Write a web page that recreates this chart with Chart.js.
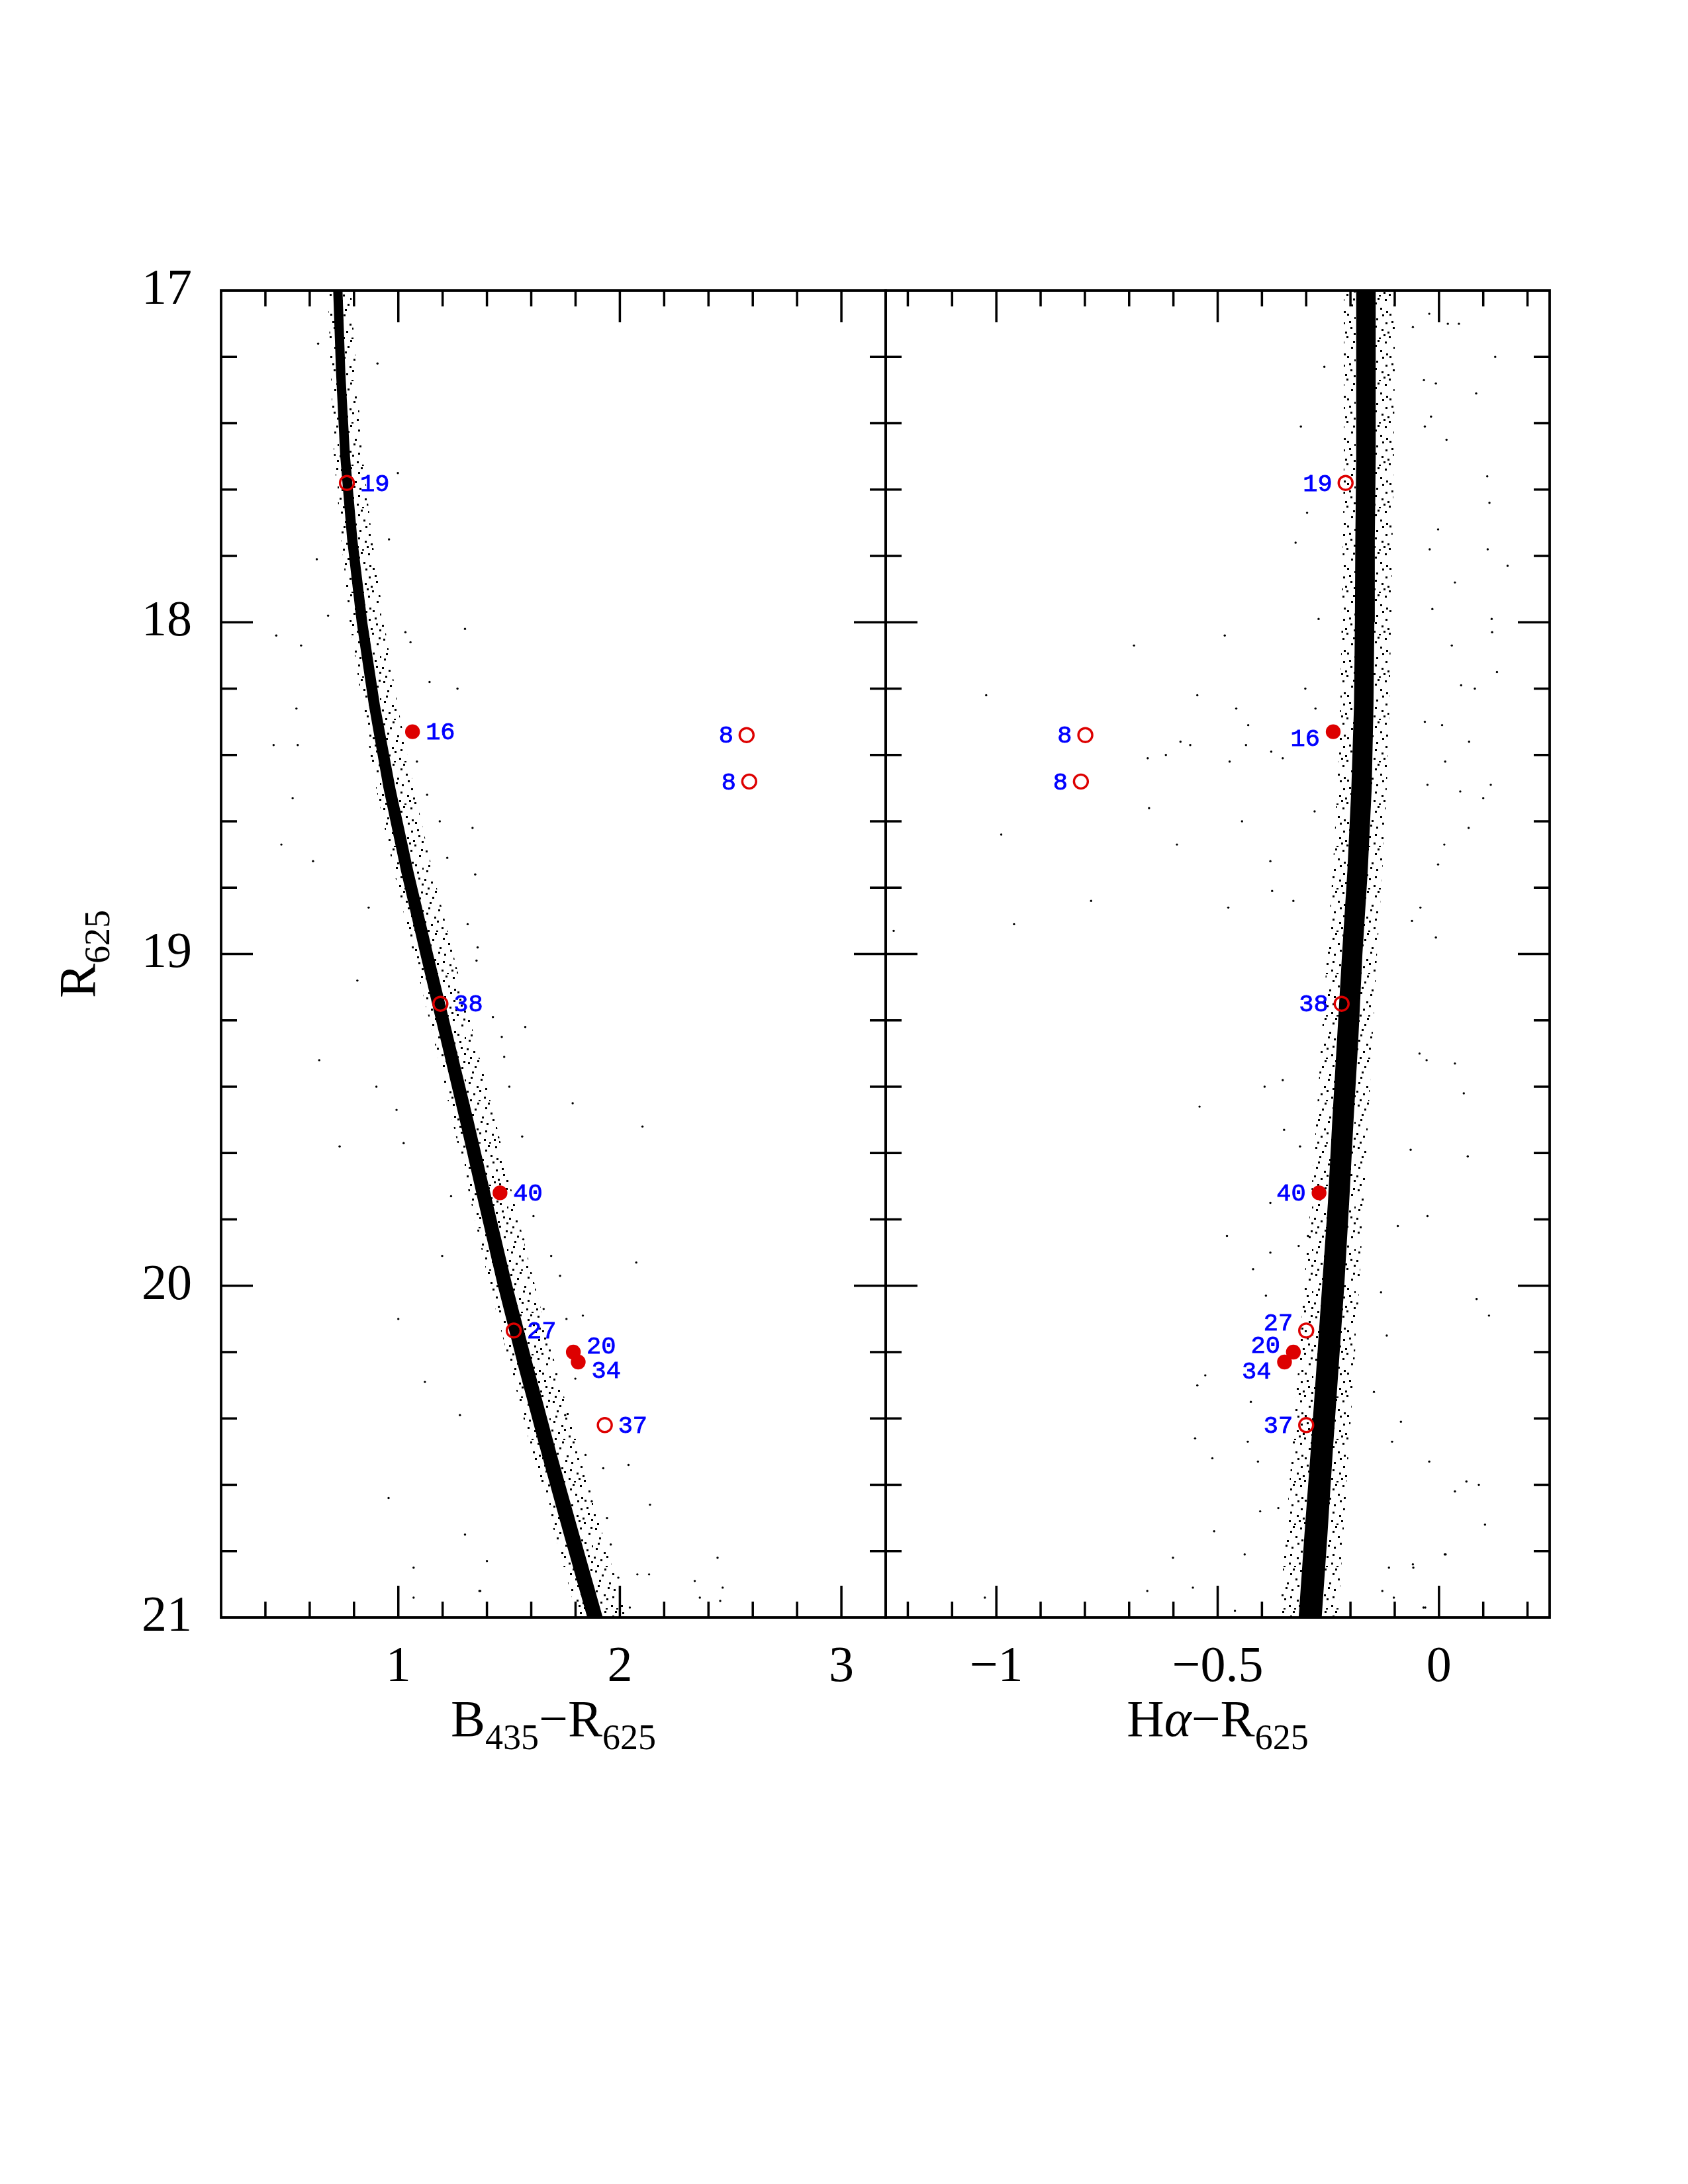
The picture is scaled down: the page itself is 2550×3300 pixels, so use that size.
<!DOCTYPE html>
<html>
<head>
<meta charset="utf-8">
<script src="https://cdn.jsdelivr.net/npm/chart.js@4.4.1/dist/chart.umd.min.js"></script>
<style>
  html, body { margin: 0; padding: 0; background: #fff; }
  #wrap { position: relative; width: 2550px; height: 3300px; background: #fff; }
  #wrap canvas { position: absolute; left: 0; top: 0; }
</style>
</head>
<body>
<div id="wrap">
  <canvas id="brPanel" width="2550" height="3300"></canvas>
  <canvas id="haPanel" width="2550" height="3300"></canvas>
</div>
<script>
// magnitude levels where the sequence edges were read
const magLevels = [17, 17.25, 17.5, 17.75, 18, 18.25, 18.5, 18.75, 19, 19.25, 19.5, 19.75, 20, 20.25, 20.5, 20.75, 21];

// B435-R625: dense core of the sequence and its sparse fringe
const brCoreLeft  = [0.706, 0.719, 0.738, 0.769, 0.812, 0.867, 0.933, 1.012, 1.099, 1.188, 1.277, 1.362, 1.449, 1.544, 1.644, 1.747, 1.853];
const brCoreRight = [0.748, 0.761, 0.782, 0.815, 0.860, 0.917, 0.987, 1.068, 1.157, 1.248, 1.339, 1.426, 1.515, 1.612, 1.712, 1.817, 1.923];
const brHaloLeft  = [0.682, 0.695, 0.710, 0.742, 0.781, 0.837, 0.900, 0.980, 1.068, 1.158, 1.243, 1.329, 1.412, 1.508, 1.603, 1.707, 1.808];
const brHaloRight = [0.787, 0.810, 0.840, 0.882, 0.936, 0.997, 1.070, 1.155, 1.248, 1.343, 1.438, 1.524, 1.617, 1.713, 1.818, 1.922, 2.033];

// Halpha-R625: same thing
const haCoreLeft  = [-0.187, -0.187, -0.187, -0.189, -0.190, -0.192, -0.198, -0.207, -0.219, -0.230, -0.241, -0.251, -0.264, -0.277, -0.290, -0.304, -0.317];
const haCoreRight = [-0.143, -0.143, -0.143, -0.145, -0.146, -0.148, -0.152, -0.161, -0.173, -0.182, -0.193, -0.203, -0.214, -0.227, -0.240, -0.252, -0.265];
const haHaloLeft  = [-0.215, -0.215, -0.215, -0.217, -0.220, -0.223, -0.230, -0.240, -0.253, -0.265, -0.277, -0.290, -0.305, -0.318, -0.332, -0.347, -0.360];
const haHaloRight = [-0.100, -0.100, -0.102, -0.105, -0.108, -0.112, -0.118, -0.128, -0.140, -0.150, -0.160, -0.170, -0.180, -0.192, -0.204, -0.216, -0.228];

// scattered field stars (some of the visible ones)
const brFieldColor = [0.449, 0.437, 0.523, 0.472, 0.615, 0.540, 0.561, 0.638, 0.632, 0.683, 0.546, 0.643, 0.735, 0.815, 0.866, 1.000, 0.956, 1.120, 1.278, 0.901,
  0.992, 1.024, 1.198, 1.238, 1.301, 1.370, 0.906, 0.998, 0.958, 1.032, 1.055, 1.141, 1.267, 1.301, 1.084, 1.130, 1.187, 1.221, 1.335, 1.347,
  1.313, 1.358, 1.353, 1.427, 1.467, 1.478, 1.501, 1.559, 1.573, 1.610, 1.564, 1.690, 1.730, 1.787, 1.656, 1.759, 1.833, 1.799, 1.753, 1.845,
  1.925, 2.039, 2.074, 2.102, 2.136, 1.804, 1.942, 1.993, 2.079, 2.045, 1.959, 1.873, 1.069, 1.400, 1.069, 1.366, 2.338, 2.464, 2.441, 2.361, 2.453, 2.132];
const brFieldMag = [18.04, 18.37, 18.53, 18.67, 18.72, 18.26, 18.07, 17.16, 17.81, 17.98, 18.37, 19.32, 19.58, 19.08, 18.86, 20.10, 20.64, 20.29, 20.39, 19.40,
  19.47, 19.57, 19.91, 19.73, 20.75, 20.92, 17.22, 17.55, 17.75, 18.03, 18.06, 18.18, 18.20, 18.02, 18.42, 18.52, 18.60, 18.71, 18.62, 18.76,
  18.91, 18.98, 19.02, 19.19, 19.25, 19.31, 19.40, 19.55, 19.22, 19.79, 19.86, 19.91, 19.97, 19.45, 20.07, 20.10, 20.09, 20.28, 20.39, 20.51,
  20.55, 20.54, 19.93, 19.52, 20.66, 20.78, 20.70, 20.88, 20.87, 20.97, 20.78, 20.65, 20.85, 20.83, 20.94, 20.92, 20.89, 20.91, 20.82, 20.94, 20.95, 20.87];

const haFieldColor = [-0.312, -0.259, -0.298, -0.324, -0.272, -0.484, -0.689, -0.302, -0.546, -1.023, -0.458, -0.279, -0.431, -0.584, -0.562, -0.436, -0.658, -0.617, -0.473, -0.379,
  -0.353, -0.655, -0.445, -0.989, -0.592, -0.381, -0.377, -0.786, -0.476, -0.960, -1.232, -0.329, -0.281, -0.479, -0.541, -0.394, -0.381, -0.420, -0.528, -0.546,
  -0.551, -0.512, -0.432, -0.409, -0.508, -0.439, -0.350, -0.314, -0.381, -0.353, -0.317, -0.296, -0.391, -0.404, -0.363, -0.425, -0.601, -0.659, -0.556, -1.026,
  -0.461, -0.059, -0.022, 0.020, 0.045, 0.127, -0.007, -0.034, 0.084, -0.018, -0.032, 0.017, 0.109, 0.114, -0.002, -0.021, 0.110, 0.155, 0.036, -0.015,
  0.119, 0.120, 0.029, 0.131, 0.050, 0.081, -0.032, 0.007, 0.068, 0.014, 0.117, 0.100, 0.048, -0.026, 0.067, 0.012, -0.002, -0.061, -0.007, -0.042,
  -0.026, 0.065, 0.036, 0.056, -0.044, -0.028, -0.064, -0.093, 0.085, 0.113, -0.086, -0.022, 0.036, 0.062, 0.090, 0.104, 0.013, -0.059, -0.031, -0.131,
  -0.106, -0.118, -0.147, 0.015, -0.113, -0.058, -0.035, -0.128, -0.102];
const haFieldMag = [17.41, 17.23, 17.67, 17.76, 17.99, 18.04, 18.07, 18.20, 18.22, 18.22, 18.26, 18.26, 18.31, 18.36, 18.37, 18.37, 18.41, 18.40, 18.42, 18.39,
  18.41, 18.56, 18.60, 18.64, 18.67, 18.72, 18.81, 18.84, 18.86, 18.91, 18.93, 18.84, 18.57, 19.85, 19.46, 19.40, 19.90, 19.95, 20.27, 20.30,
  20.46, 20.52, 20.47, 20.53, 20.74, 20.81, 19.53, 19.58, 19.75, 19.38, 19.88, 19.85, 20.03, 20.68, 20.67, 20.35, 20.82, 20.92, 20.91, 20.94,
  20.98, 17.11, 17.07, 17.10, 17.10, 17.20, 17.28, 17.27, 17.31, 17.38, 17.41, 17.45, 17.56, 17.64, 17.72, 17.78, 17.78, 17.83, 17.88, 17.96,
  17.99, 18.03, 18.07, 18.15, 18.19, 18.20, 18.30, 18.31, 18.36, 18.42, 18.49, 18.53, 18.51, 18.49, 18.62, 18.67, 18.73, 18.90, 18.95, 18.86,
  19.79, 19.61, 19.33, 19.42, 19.30, 19.32, 19.59, 19.82, 20.04, 20.09, 20.41, 20.53, 20.62, 20.59, 20.60, 20.72, 20.81, 20.84, 20.97, 20.02,
  20.47, 20.15, 20.32, 20.81, 20.85, 20.85, 20.97, 20.92, 20.94];

// marked stars
const starIds    = ['19', '16', '8', '8', '38', '40', '27', '20', '34', '37'];
const starMag    = [17.58, 18.33, 18.34, 18.48, 19.15, 19.72, 20.135, 20.20, 20.23, 20.42];
const starBR     = [0.768, 1.064, 2.572, 2.584, 1.190, 1.459, 1.521, 1.790, 1.812, 1.932];
const starHa     = [-0.211, -0.239, -0.799, -0.809, -0.220, -0.271, -0.300, -0.329, -0.349, -0.300];
const starFilled = [false, true, false, false, false, true, false, true, true, false];

// axes
const magTicks = [17, 18, 19, 20, 21];
const magTickLabels = ['17', '18', '19', '20', '21'];
const brTicks = [1, 2, 3];
const brTickLabels = ['1', '2', '3'];
const haTicks = [-1, -0.5, 0];
const haTickLabels = ['\u22121', '\u22120.5', '0'];

const PLOT_TOP = 439, PLOT_BOTTOM = 2444, LEFT_X = 334, MID_X = 1338, RIGHT_X = 2341;
const PAGE_W = 2550, PAGE_H = 3300, XAXIS_H = 200;
const SERIF = '"Liberation Serif", "DejaVu Serif", serif';
const RED = '#dd0000';

function steps(from, to, step) {
  const out = [];
  for (let v = from; v <= to + 1e-9; v += step) out.push(Math.round(v * 1000) / 1000);
  return out;
}

function edgePoints(arr) {
  return magLevels.map((m, i) => ({x: arr[i], y: m}));
}

function polygon(leftArr, rightArr) {
  return edgePoints(leftArr).concat(edgePoints(rightArr).reverse());
}

function pairs(xs, ys) {
  return xs.map((x, i) => ({x: x, y: ys[i]}));
}

// speckled fill for the loose fringe around the sequence
function speckle(ctx) {
  const c = document.createElement('canvas');
  c.width = 64; c.height = 64;
  const g = c.getContext('2d');
  g.fillStyle = '#000';
  [[3, 5], [17, 2], [29, 9], [44, 4], [57, 12], [9, 19], [24, 23], [37, 17], [51, 26], [62, 31], [4, 35], [16, 41],
   [31, 33], [45, 39], [56, 46], [11, 52], [27, 57], [39, 49], [50, 60], [61, 55], [20, 47], [35, 62], [6, 61], [46, 22],
   [13, 11], [40, 27], [22, 30], [54, 37], [7, 27], [29, 44], [60, 3], [33, 2], [48, 53], [19, 62], [1, 48], [42, 57]]
    .forEach(p => g.fillRect(p[0], p[1], 3, 3));
  return ctx.createPattern(c, 'repeat');
}

// frame and inward ticks on all four sides
const frameTicks = {
  id: 'frameTicks',
  afterDatasetsDraw(chart, args, opts) {
    const {ctx, chartArea: a} = chart;
    const xs = chart.scales.x, ys = chart.scales.y;
    const isMajor = (v, majors) => majors.some(m => Math.abs(m - v) < 1e-6);
    ctx.save();
    ctx.strokeStyle = '#000';
    ctx.lineWidth = 3.5;
    ctx.beginPath();
    opts.xMinor.forEach(v => {
      const px = xs.getPixelForValue(v);
      const len = isMajor(v, opts.xMajor) ? 48 : 24;
      ctx.moveTo(px, a.bottom); ctx.lineTo(px, a.bottom - len);
      ctx.moveTo(px, a.top); ctx.lineTo(px, a.top + len);
    });
    opts.yMinor.forEach(v => {
      const py = ys.getPixelForValue(v);
      const len = isMajor(v, magTicks) ? 48 : 24;
      ctx.moveTo(a.left, py); ctx.lineTo(a.left + len, py);
      ctx.moveTo(a.right, py); ctx.lineTo(a.right - len, py);
    });
    ctx.stroke();
    ctx.lineWidth = 3.8;
    ctx.strokeRect(a.left, a.top, a.right - a.left, a.bottom - a.top);
    ctx.restore();
  }
};

const starLabels = {
  id: 'starLabels',
  afterDatasetsDraw(chart, args, opts) {
    const meta = chart.getDatasetMeta(0);
    const ctx = chart.ctx;
    ctx.save();
    ctx.font = '37px "Liberation Mono", "DejaVu Sans Mono", monospace';
    ctx.fillStyle = '#0000ff';
    ctx.strokeStyle = '#0000ff';
    ctx.lineWidth = 0.9;
    ctx.textBaseline = 'middle';
    meta.data.forEach((pt, i) => {
      const id = starIds[i];
      const toLeft = opts.side === 'left' || opts.leftIds.includes(id);
      const nudge = opts.nudge[id] || 0;
      ctx.textAlign = toLeft ? 'right' : 'left';
      const tx = pt.x + (toLeft ? -20 : 20), ty = pt.y + nudge + 2;
      ctx.fillText(id, tx, ty);
      ctx.strokeText(id, tx, ty);
    });
    ctx.restore();
  }
};

function drawRich(ctx, parts, cx, baseY) {
  let total = 0;
  parts.forEach(p => { ctx.font = p.font; total += ctx.measureText(p.t).width; });
  let x = cx - total / 2;
  ctx.textAlign = 'left';
  ctx.textBaseline = 'alphabetic';
  parts.forEach(p => {
    ctx.font = p.font;
    ctx.fillText(p.t, x, baseY + (p.dy || 0));
    x += ctx.measureText(p.t).width;
  });
}

const axisTitles = {
  id: 'axisTitles',
  afterDraw(chart, args, opts) {
    const {ctx, chartArea: a} = chart;
    ctx.save();
    ctx.fillStyle = '#000';
    drawRich(ctx, opts.xParts, (a.left + a.right) / 2, 2623);
    if (opts.yParts) {
      ctx.translate(143, (a.top + a.bottom) / 2);
      ctx.rotate(-Math.PI / 2);
      drawRich(ctx, opts.yParts, 0, 0);
    }
    ctx.restore();
  }
};

const MAIN = '78px ' + SERIF;
const SUB = '54px ' + SERIF;

function makePanel(id, cfg) {
  const canvas = document.getElementById(id);
  const ctx = canvas.getContext('2d');
  return new Chart(ctx, {
    type: 'scatter',
    data: {
      datasets: [
        {
          data: pairs(cfg.starX, starMag),
          pointRadius: starFilled.map(f => f ? 9.5 : 10.5),
          pointBackgroundColor: starFilled.map(f => f ? RED : 'rgba(0,0,0,0)'),
          pointBorderColor: RED,
          pointBorderWidth: 3.4
        },
        {
          data: pairs(cfg.fieldX, cfg.fieldY),
          pointRadius: 1.7,
          pointBackgroundColor: '#000',
          pointBorderWidth: 0
        },
        {
          type: 'line',
          data: polygon(cfg.coreL, cfg.coreR),
          borderWidth: 0,
          pointRadius: 0,
          fill: 'shape',
          backgroundColor: '#000'
        },
        {
          type: 'line',
          data: polygon(cfg.haloL, cfg.haloR),
          borderWidth: 0,
          pointRadius: 0,
          fill: 'shape',
          backgroundColor: speckle(ctx)
        }
      ]
    },
    options: {
      responsive: false,
      animation: false,
      events: [],
      layout: {padding: cfg.padding},
      plugins: {
        legend: {display: false},
        tooltip: {enabled: false},
        frameTicks: {xMinor: cfg.xMinor, xMajor: cfg.xTicks, yMinor: steps(17.2, 20.8, 0.2)},
        starLabels: cfg.labels,
        axisTitles: {xParts: cfg.xTitle, yParts: cfg.yTitle}
      },
      scales: {
        x: {
          type: 'linear',
          min: cfg.xMin,
          max: cfg.xMax,
          grid: {display: false, drawTicks: false},
          border: {display: false},
          afterFit: s => { s.height = XAXIS_H; },
          afterBuildTicks: s => { s.ticks = cfg.xTicks.map(v => ({value: v})); },
          ticks: {
            autoSkip: false,
            maxRotation: 0,
            padding: 30,
            color: '#000',
            font: {family: SERIF, size: 76},
            callback: (v, i) => cfg.xTickLabels[i]
          }
        },
        y: {
          type: 'linear',
          reverse: true,
          min: 17,
          max: 21,
          ticks: {
            display: cfg.showY,
            autoSkip: false,
            padding: 44,
            color: '#000',
            font: {family: SERIF, size: 76},
            callback: (v, i) => magTickLabels[i]
          },
          grid: {display: false, drawTicks: false},
          border: {display: false},
          afterFit: s => { s.width = LEFT_X; },
          afterBuildTicks: s => { s.ticks = magTicks.map(v => ({value: v})); }
        }
      }
    },
    plugins: [frameTicks, starLabels, axisTitles]
  });
}

makePanel('brPanel', {
  starX: starBR,
  fieldX: brFieldColor, fieldY: brFieldMag,
  coreL: brCoreLeft, coreR: brCoreRight, haloL: brHaloLeft, haloR: brHaloRight,
  xMin: 0.2, xMax: 3.2,
  xTicks: brTicks, xTickLabels: brTickLabels,
  xMinor: steps(0.4, 3.0, 0.2),
  showY: true,
  padding: {left: 0, top: PLOT_TOP, right: PAGE_W - MID_X, bottom: PAGE_H - PLOT_BOTTOM - XAXIS_H},
  labels: {side: 'right', leftIds: ['8'], nudge: {'20': -10, '34': 12}},
  xTitle: [{t: 'B', font: MAIN}, {t: '435', font: SUB, dy: 20}, {t: '\u2212R', font: MAIN}, {t: '625', font: SUB, dy: 20}],
  yTitle: [{t: 'R', font: MAIN}, {t: '625', font: SUB, dy: 22}]
});

makePanel('haPanel', {
  starX: starHa,
  fieldX: haFieldColor, fieldY: haFieldMag,
  coreL: haCoreLeft, coreR: haCoreRight, haloL: haHaloLeft, haloR: haHaloRight,
  xMin: -1.25, xMax: 0.25,
  xTicks: haTicks, xTickLabels: haTickLabels,
  xMinor: steps(-1.2, 0.2, 0.1),
  showY: false,
  padding: {left: MID_X - LEFT_X, top: PLOT_TOP, right: PAGE_W - RIGHT_X, bottom: PAGE_H - PLOT_BOTTOM - XAXIS_H},
  labels: {side: 'left', leftIds: [], nudge: {'27': -12, '20': -11, '34': 13, '16': 10}},
  xTitle: [{t: 'H', font: MAIN}, {t: '\u03b1', font: 'italic ' + MAIN}, {t: '\u2212R', font: MAIN}, {t: '625', font: SUB, dy: 20}],
  yTitle: null
});
</script>
</body>
</html>
